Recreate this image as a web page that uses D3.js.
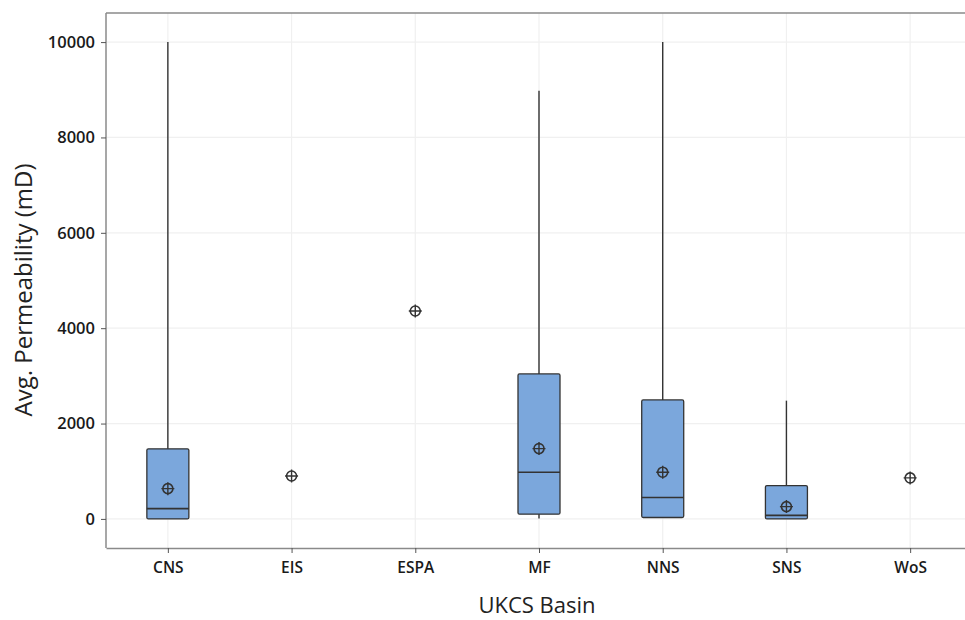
<!DOCTYPE html>
<html>
<head>
<meta charset="utf-8">
<script src="https://cdn.jsdelivr.net/npm/d3@7"></script>
<style>
  body { margin: 0; background: #fff; }
  svg { display: block; }
</style>
</head>
<body>
<script>
// Basins on the x axis
const categories = ["CNS", "EIS", "ESPA", "MF", "NNS", "SNS", "WoS"];
// Box plot values per basin (null = only a mean was shown)
const whiskerLow = [0, null, null, 10, 25, 0, null];
const q1 = [0, null, null, 100, 30, 0, null];
const median = [215, null, null, 980, 450, 75, null];
const q3 = [1470, null, null, 3040, 2495, 700, null];
const whiskerHigh = [10000, null, null, 8980, 10000, 2480, null];
const means = [635, 900, 4360, 1475, 980, 258, 860];
const yTicks = [0, 2000, 4000, 6000, 8000, 10000];

const data = categories.map((c, i) => ({
  cat: c,
  lo: whiskerLow[i],
  q1: q1[i],
  med: median[i],
  q3: q3[i],
  hi: whiskerHigh[i],
  mean: means[i],
}));

const width = 965;
const height = 620;
const plotLeft = 106;
const plotRight = 972;
const plotTop = 13;
const plotBottom = 548;
const boxWidth = 42;
const font = "'Open Sans', 'Noto Sans', sans-serif";

const svg = d3.select("body")
  .append("svg")
  .attr("width", width)
  .attr("height", height);

const x = d3.scalePoint()
  .domain(categories)
  .range([plotLeft, plotRight])
  .padding(0.5);

const y = d3.scaleLinear()
  .domain([-610, 10610])
  .range([plotBottom, plotTop]);

// Grid lines
svg.append("g")
  .selectAll("line")
  .data(yTicks)
  .enter()
  .append("line")
  .attr("x1", plotLeft)
  .attr("x2", plotRight)
  .attr("y1", d => y(d))
  .attr("y2", d => y(d))
  .attr("stroke", "#f0f0f0")
  .attr("stroke-width", 1.2);

svg.append("g")
  .selectAll("line")
  .data(categories)
  .enter()
  .append("line")
  .attr("x1", d => x(d))
  .attr("x2", d => x(d))
  .attr("y1", plotTop)
  .attr("y2", plotBottom)
  .attr("stroke", "#f0f0f0")
  .attr("stroke-width", 1.2);

// Top frame line
svg.append("line")
  .attr("x1", plotLeft)
  .attr("x2", plotRight)
  .attr("y1", plotTop)
  .attr("y2", plotTop)
  .attr("stroke", "#8a8a8a")
  .attr("stroke-width", 1.5);

// Axes
const yAxis = svg.append("g")
  .attr("transform", `translate(${plotLeft},0)`)
  .call(d3.axisLeft(y).tickValues(yTicks).tickFormat(d3.format("d"))
    .tickSize(5).tickPadding(6).tickSizeOuter(0));

const xAxis = svg.append("g")
  .attr("transform", `translate(0,${plotBottom})`)
  .call(d3.axisBottom(x).tickSize(5).tickPadding(9).tickSizeOuter(0));

[yAxis, xAxis].forEach(ax => {
  ax.select(".domain").attr("stroke", "#8a8a8a").attr("stroke-width", 1.5);
  ax.selectAll(".tick line").attr("stroke", "#555");
  ax.selectAll(".tick text")
    .attr("fill", "#1a1a1a")
    .style("font-family", font)
    .style("font-weight", 600);
});
xAxis.selectAll(".tick text").style("font-size", "15.5px");
yAxis.selectAll(".tick text").style("font-size", "16.5px");
// extend y domain line to the frame top and bottom
yAxis.select(".domain").attr("d", `M0,${plotTop}V${plotBottom}`);

// Whiskers
const boxes = data.filter(d => d.q1 !== null);

svg.append("g")
  .selectAll("line")
  .data(boxes)
  .enter()
  .append("line")
  .attr("x1", d => x(d.cat))
  .attr("x2", d => x(d.cat))
  .attr("y1", d => y(d.hi))
  .attr("y2", d => y(d.lo))
  .attr("stroke", "#333")
  .attr("stroke-width", 1.4);

// Boxes
svg.append("g")
  .selectAll("rect")
  .data(boxes)
  .enter()
  .append("rect")
  .attr("x", d => x(d.cat) - boxWidth / 2)
  .attr("y", d => y(d.q3))
  .attr("width", boxWidth)
  .attr("height", d => y(d.q1) - y(d.q3))
  .attr("rx", 1.5)
  .attr("fill", "#7ba7dc")
  .attr("stroke", "#333")
  .attr("stroke-width", 1.3);

// Medians
svg.append("g")
  .selectAll("line")
  .data(boxes)
  .enter()
  .append("line")
  .attr("x1", d => x(d.cat) - boxWidth / 2)
  .attr("x2", d => x(d.cat) + boxWidth / 2)
  .attr("y1", d => y(d.med))
  .attr("y2", d => y(d.med))
  .attr("stroke", "#333")
  .attr("stroke-width", 1.6);

// Mean symbols: circle with crosshair
const meanG = svg.append("g")
  .selectAll("g")
  .data(data)
  .enter()
  .append("g")
  .attr("transform", d => `translate(${x(d.cat)},${y(d.mean)})`);

meanG.append("circle")
  .attr("r", 5)
  .attr("fill", "none")
  .attr("stroke", "#333")
  .attr("stroke-width", 1.6);

meanG.append("path")
  .attr("d", "M-6.5,0H6.5M0,-6.5V6.5")
  .attr("stroke", "#333")
  .attr("stroke-width", 1.4);

// Axis titles
svg.append("text")
  .attr("x", 537)
  .attr("y", 613)
  .attr("text-anchor", "middle")
  .style("font-family", font)
  .style("font-size", "22px")
  .attr("fill", "#222")
  .text("UKCS Basin");

svg.append("text")
  .attr("transform", "translate(32,290) rotate(-90)")
  .attr("text-anchor", "middle")
  .style("font-family", font)
  .style("font-size", "24px")
  .attr("fill", "#222")
  .text("Avg. Permeability (mD)");
</script>
</body>
</html>
